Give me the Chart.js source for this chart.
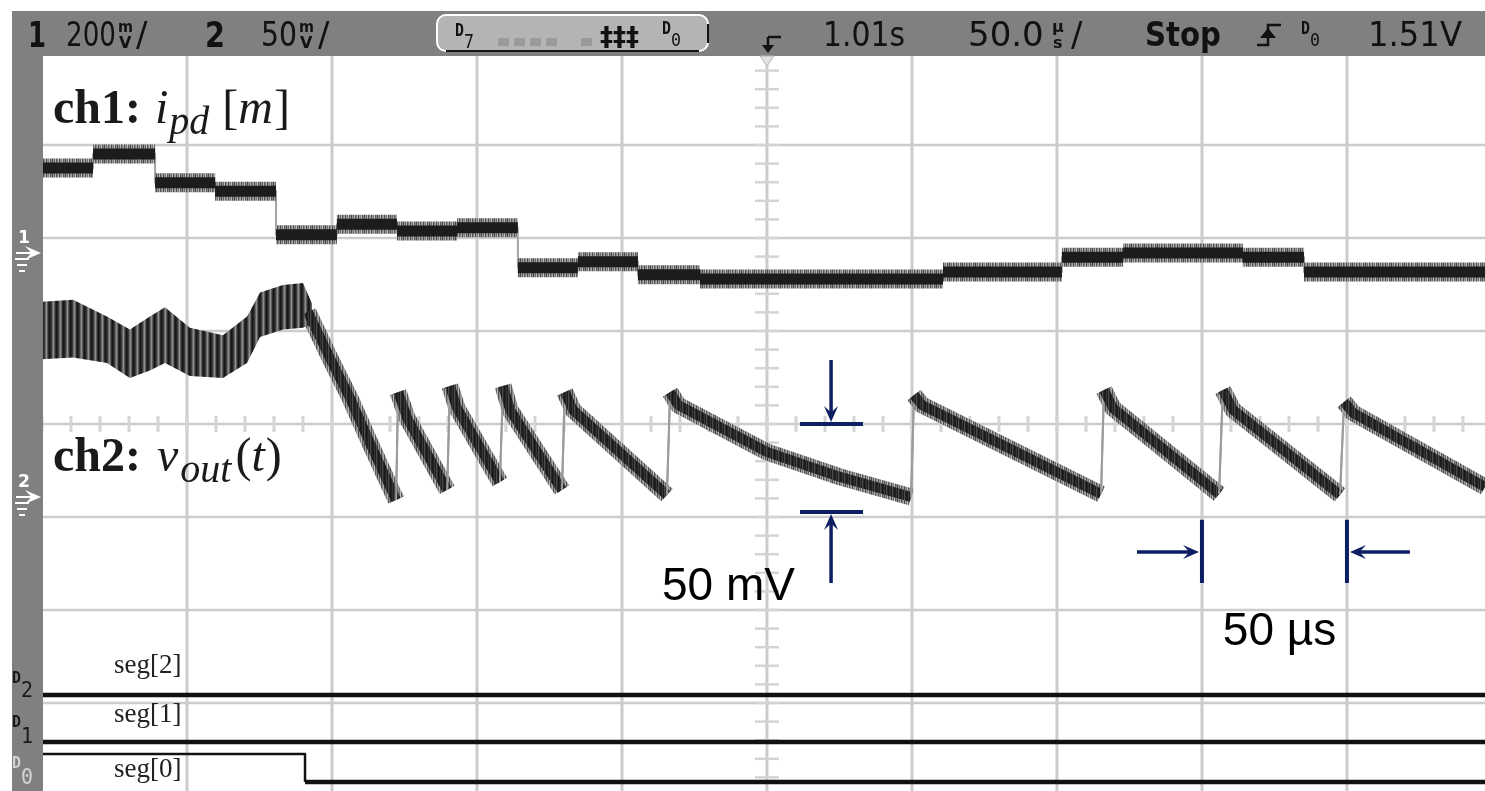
<!DOCTYPE html>
<html lang="en">
<head>
<meta charset="utf-8">
<title>Scope capture: ch1 i_pd[m], ch2 v_out(t)</title>
<script src="https://cdn.jsdelivr.net/npm/chart.js@4.4.1/dist/chart.umd.min.js"></script>
<style>
  html, body { margin: 0; padding: 0; background: #ffffff; overflow: hidden; }
  canvas { display: block; }
</style>
</head>
<body>
<canvas id="scope" width="1485" height="791"></canvas>
<script>
// time base: 50 us/div, trigger at 0 (centre of screen)
var timeDiv = 50;
var timeMin = -250, timeMax = 247.6;

// ch1: i_pd[m] at 200 mV/div -- step edges (us) and plateau levels (mV)
var ch1Edges = [-250, -232.4, -211.0, -190.3, -169.3, -148.3, -127.6, -106.9, -85.9, -65.2,
                -44.5, -23.1, 60.7, 101.7, 122.8, 164.1, 185.2, 247.6];
var ch1Levels = [183, 213, 151, 133, 39, 62, 47, 54, -32, -19, -47, -56, -41, -9, 0, -9, -41];

// ch2: v_out(t) at 50 mV/div -- noisy start, read as an upper / lower envelope (mV)
var ch2NoiseTimes = [-250, -239.3, -227.6, -219.7, -212.8, -207.6, -199.0, -187.6, -179.3, -174.8, -166.9, -160.0, -156.9];
var ch2NoiseHigh = [105, 106, 97, 90, 97, 102, 91, 87, 97, 110, 114, 115, 104];
var ch2NoiseLow = [74, 75, 72, 64, 68, 72, 65, 64, 72, 86, 90, 91, 93];

// ch2: the sawtooth part (trace centre, mV)
var ch2Times = [-158.3, -150.7, -143.8, -136.9, -131.7, -127.9, -127.2, -124.1, -110.3, -109.3,
                -106.9, -92.1, -91.0, -88.6, -70.7, -69.7, -66.9, -34.5, -33.4, -30.7,
                0, 25.2, 49.7, 50.7, 53.4, 115.2, 116.2, 119.3, 155.9, 157.2,
                160.7, 197.6, 199.0, 202.1, 247.6];
var ch2Values = [99.5, 74.7, 53.2, 29.0, 11.3, -1.6, 56.4, 42.5, 3.8, 59.7,
                 47.8, 8.1, 59.7, 46.8, 3.8, 56.4, 46.8, 1.1, 56.4, 49.5,
                 24.2, 10.8, 0, 54.8, 49.5, 1.6, 57.5, 47.8, 1.6, 57.5,
                 46.8, 1.1, 51.1, 45.2, 5.4];

// digital channels (logic levels at each change)
var digitalTimes = [-250, -159.3, 247.6];
var seg2Levels = [0, 0, 0];
var seg1Levels = [0, 0, 0];
var seg0Levels = [1, 0, 0];

// screen geometry (in divisions, 0 = centre line)
var divMax = 4, divMin = 4 - 739 / 93;
var ch1Offset = 1.839, ch1PerDiv = 200;
var ch2Offset = -0.785, ch2PerDiv = 50;
var digBase = { seg2: -2.914, seg1: -3.419, seg0: -3.849 };
var digHigh = 0.301;

var navy = '#0c1f62';
var canvas = document.getElementById('scope');
var mainCtx = canvas.getContext('2d');

function stripes(colors) {
    var c = document.createElement('canvas');
    c.width = colors.length;
    c.height = 1;
    var g = c.getContext('2d');
    colors.forEach(function (col, i) {
        g.fillStyle = col;
        g.fillRect(i, 0, 1, 1);
    });
    return mainCtx.createPattern(c, 'repeat');
}

// trace textures (the scope's persistence noise)
var bandPattern = stripes(['#161616', '#242424', '#3c3c3c', '#666666', '#8e8e8e', '#5c5c5c', '#2e2e2e']);
var fringePattern = stripes(['#4a4a4a', '#9a9a9a', '#666666', '#b4b4b4', '#555555', '#8a8a8a', '#a8a8a8',
                             '#4e4e4e', '#999999', '#777777', '#bdbdbd', '#5a5a5a', '#8a8a8a']);
var corePattern = stripes(['#1a1a1a', '#222222', '#363636', '#1e1e1e', '#4a4a4a', '#2a2a2a']);

function pts(xs, ys) {
    return xs.map(function (x, i) { return { x: x, y: ys[i] }; });
}

// ch1 plateaus as separate pieces, the edges as a thin stepped trace underneath
function ch1Plateaus() {
    var out = [];
    ch1Levels.forEach(function (v, i) {
        out.push({ x: ch1Edges[i], y: v }, { x: ch1Edges[i + 1], y: v }, { x: ch1Edges[i + 1], y: null });
    });
    return out;
}
var ch1Steps = pts(ch1Edges, ch1Levels.concat([ch1Levels[ch1Levels.length - 1]]));

function digital(levels, base) {
    return digitalTimes.map(function (t, i) { return { x: t, y: base + levels[i] * digHigh }; });
}

// rising edges of the sawtooth are thin grey, like the scope draws them
function isJump(c) { return c.p1.parsed.y - c.p0.parsed.y > 20; }
var jumpStyle = {
    borderWidth: function (c) { return isJump(c) ? 2 : undefined; },
    borderColor: function (c) { return isJump(c) ? '#9c9c9c' : undefined; }
};

function digitalSet(levels, base) {
    return {
        data: digital(levels, base), yAxisID: 'y', stepped: 'before',
        borderColor: '#111111', borderWidth: 4.5, order: 1,
        segment: {
            borderWidth: function (c) { return levels[c.p0DataIndex] ? 2.5 : undefined; }
        }
    };
}

function line(ctx, x1, y1, x2, y2) {
    ctx.beginPath();
    ctx.moveTo(x1, y1);
    ctx.lineTo(x2, y2);
    ctx.stroke();
}

function text(ctx, s, x, y, font, color, maxW) {
    ctx.font = font;
    ctx.fillStyle = color;
    if (maxW) ctx.fillText(s, x, y, maxW); else ctx.fillText(s, x, y);
    return x + Math.min(ctx.measureText(s).width, maxW || Infinity);
}

function arrow(ctx, x1, y1, x2, y2) {
    var a = Math.atan2(y2 - y1, x2 - x1), len = 16, hw = 7;
    line(ctx, x1, y1, x2 - Math.cos(a) * 6, y2 - Math.sin(a) * 6);
    ctx.beginPath();
    ctx.moveTo(x2, y2);
    ctx.lineTo(x2 - len * Math.cos(a) + hw * Math.sin(a), y2 - len * Math.sin(a) - hw * Math.cos(a));
    ctx.lineTo(x2 - 0.6 * len * Math.cos(a), y2 - 0.6 * len * Math.sin(a));
    ctx.lineTo(x2 - len * Math.cos(a) - hw * Math.sin(a), y2 - len * Math.sin(a) + hw * Math.cos(a));
    ctx.closePath();
    ctx.fill();
}

function drawGrid(chart) {
    var ctx = chart.ctx, a = chart.chartArea, xs = chart.scales.x, ys = chart.scales.y;
    var i, x, y;
    ctx.save();
    ctx.strokeStyle = '#cccccc';
    ctx.lineWidth = 3;
    for (i = 1; timeMin + i * timeDiv < timeMax; i++) {
        x = xs.getPixelForValue(timeMin + i * timeDiv);
        line(ctx, x, a.top, x, a.bottom);
    }
    ctx.lineWidth = 2.5;
    for (i = Math.ceil(divMin); i < divMax; i++) {
        y = ys.getPixelForValue(i);
        line(ctx, a.left, y, a.right, y);
    }
    // minor ticks on the centre cross
    var x0 = xs.getPixelForValue(0), y0 = ys.getPixelForValue(0);
    ctx.strokeStyle = '#d4d4d4';
    ctx.lineWidth = 3;
    for (i = 0; timeMin + i * timeDiv / 5 <= timeMax; i++) {
        x = xs.getPixelForValue(timeMin + i * timeDiv / 5);
        line(ctx, x, y0 - 8, x, y0 + 8);
    }
    ctx.lineWidth = 2.5;
    for (i = 0; divMax - i * 0.2 >= divMin; i++) {
        y = ys.getPixelForValue(divMax - i * 0.2);
        line(ctx, x0 - 12, y, x0 + 12, y);
    }
    ctx.restore();
}

function stackedUnit(ctx, top, bottom, x) {
    text(ctx, top, x, 32, 'bold 16px "DejaVu Sans"', '#111111', 15);
    text(ctx, bottom, x + 1, 48, 'bold 16px "DejaVu Sans"', '#111111', 13);
}

function drawFrame(chart) {
    var ctx = chart.ctx, W = chart.width, H = chart.height;
    var x0 = chart.scales.x.getPixelForValue(0);
    ctx.save();
    ctx.fillStyle = '#808080';
    ctx.fillRect(12, 11, W - 12, 45);
    ctx.fillRect(12, 11, 31, H - 11);

    // trigger position marker
    ctx.fillStyle = '#e2e2e2';
    ctx.strokeStyle = '#b8b8b8';
    ctx.lineWidth = 1;
    ctx.beginPath();
    ctx.moveTo(x0 - 7, 56); ctx.lineTo(x0 + 7, 56); ctx.lineTo(x0, 66); ctx.closePath();
    ctx.fill(); ctx.stroke();

    // status line
    ctx.textBaseline = 'alphabetic';
    var f = '34px "DejaVu Sans"', fb = 'bold 36px "DejaVu Sans"', k = '#111111';
    text(ctx, '1', 28, 47, fb, k, 18);
    text(ctx, '200', 66, 46, f, k, 50);
    stackedUnit(ctx, 'm', 'V', 118);
    text(ctx, '/', 136, 46, f, k, 12);
    text(ctx, '2', 205, 47, fb, k, 20);
    text(ctx, '50', 261, 46, f, k, 36);
    stackedUnit(ctx, 'm', 'V', 299);
    text(ctx, '/', 318, 46, f, k, 12);

    // digital channel box
    ctx.fillStyle = '#b4b4b4';
    ctx.beginPath();
    ctx.roundRect(437, 15, 271, 36, 9);
    ctx.fill();
    ctx.strokeStyle = '#ffffff';
    ctx.lineWidth = 2;
    ctx.stroke();
    ctx.strokeStyle = '#151515';
    line(ctx, 446, 51, 699, 51);
    line(ctx, 708, 24, 708, 43);
    text(ctx, 'D', 455, 36, 'bold 17px "DejaVu Sans Mono"', k, 9);
    text(ctx, '7', 464, 48, '20px "DejaVu Sans Mono"', k, 10);
    ctx.fillStyle = '#9a9a9a';
    [498, 514, 530, 546, 581].forEach(function (sx) { ctx.fillRect(sx, 38, 11, 8); });
    text(ctx, '\u2021\u2021\u2021', 600, 46, 'bold 26px "DejaVu Sans"', k, 50);
    text(ctx, 'D', 662, 34, 'bold 17px "DejaVu Sans Mono"', k, 9);
    text(ctx, '0', 671, 46, '18px "DejaVu Sans Mono"', k, 10);

    // trigger time / timebase
    ctx.strokeStyle = k;
    ctx.fillStyle = k;
    ctx.lineWidth = 2.5;
    line(ctx, 768, 37, 781, 37);
    line(ctx, 768, 37, 768, 47);
    ctx.beginPath();
    ctx.moveTo(762, 45); ctx.lineTo(774, 45); ctx.lineTo(768, 53); ctx.closePath();
    ctx.fill();
    text(ctx, '1.01s', 823, 46, f, k, 82);
    text(ctx, '50.0', 968, 46, f, k, 82);
    stackedUnit(ctx, '\u00b5', 's', 1052);
    text(ctx, '/', 1071, 46, f, k, 14);
    text(ctx, 'Stop', 1145, 46, 'bold 34px "DejaVu Sans"', k, 76);

    // trigger edge symbol
    ctx.lineWidth = 2.5;
    ctx.beginPath();
    ctx.moveTo(1257, 45); ctx.lineTo(1268, 45); ctx.lineTo(1268, 25); ctx.lineTo(1281, 25);
    ctx.stroke();
    ctx.beginPath();
    ctx.moveTo(1260, 38); ctx.lineTo(1276, 38); ctx.lineTo(1268, 28); ctx.closePath();
    ctx.fill();
    text(ctx, 'D', 1301, 34, 'bold 17px "DejaVu Sans Mono"', k, 9);
    text(ctx, '0', 1310, 46, '18px "DejaVu Sans Mono"', k, 10);
    text(ctx, '1.51V', 1368, 46, f, k, 94);

    // channel ground markers
    [[ch1Offset, '1'], [ch2Offset, '2']].forEach(function (m) {
        var y = chart.scales.y.getPixelForValue(m[0]);
        ctx.strokeStyle = '#ffffff';
        ctx.fillStyle = '#ffffff';
        text(ctx, m[1], 18, y - 10, 'bold 18px "DejaVu Sans"', '#ffffff', 12);
        ctx.lineWidth = 2;
        arrow(ctx, 16, y, 41, y);
        line(ctx, 15, y + 6, 29, y + 6);
        line(ctx, 17, y + 12, 27, y + 12);
        line(ctx, 19, y + 18, 25, y + 18);
    });

    // digital channel labels
    text(ctx, 'D', 12, 683, 'bold 16px "DejaVu Sans Mono"', '#1a1a1a', 9);
    text(ctx, '2', 21, 697, '21px "DejaVu Sans Mono"', '#1a1a1a', 12);
    text(ctx, 'D', 12, 727, 'bold 16px "DejaVu Sans Mono"', '#1a1a1a', 9);
    text(ctx, '1', 21, 743, '21px "DejaVu Sans Mono"', '#1a1a1a', 12);
    text(ctx, 'D', 12, 768, 'bold 16px "DejaVu Sans Mono"', '#d4d4d4', 9);
    text(ctx, '0', 21, 784, '21px "DejaVu Sans Mono"', '#d4d4d4', 12);
    ctx.restore();
}

function drawLabels(chart) {
    var ctx = chart.ctx, xs = chart.scales.x, ys = chart.scales.y;
    var serif = '"Liberation Serif", "Times New Roman", serif', ink = '#1a1a1a';
    ctx.save();
    ctx.textBaseline = 'alphabetic';
    var x = text(ctx, 'ch1:', 53, 123, 'bold 48px ' + serif, ink);
    x = text(ctx, 'i', x + 14, 123, 'italic 48px ' + serif, ink);
    x = text(ctx, 'pd', x + 1, 134, 'italic 40px ' + serif, ink);
    x = text(ctx, '[', x + 13, 123, '48px ' + serif, ink);
    x = text(ctx, 'm', x, 123, 'italic 48px ' + serif, ink);
    text(ctx, ']', x + 1, 123, '48px ' + serif, ink);

    x = text(ctx, 'ch2:', 53, 471, 'bold 48px ' + serif, ink);
    x = text(ctx, 'v', x + 16, 471, 'italic 48px ' + serif, ink);
    x = text(ctx, 'out', x + 2, 482, 'italic 40px ' + serif, ink);
    x = text(ctx, '(', x + 4, 471, '48px ' + serif, ink);
    x = text(ctx, 't', x, 471, 'italic 48px ' + serif, ink);
    text(ctx, ')', x + 1, 471, '48px ' + serif, ink);

    text(ctx, 'seg[2]', 114, 673, '27px ' + serif, '#222222');
    text(ctx, 'seg[1]', 114, 722, '27px ' + serif, '#222222');
    text(ctx, 'seg[0]', 114, 777, '27px ' + serif, '#222222');

    // 50 mV bracket
    var px = function (t) { return xs.getPixelForValue(t); };
    var py = function (d) { return ys.getPixelForValue(d); };
    ctx.strokeStyle = navy;
    ctx.fillStyle = navy;
    ctx.lineWidth = 4;
    line(ctx, px(11.4), py(0), px(33.1), py(0));
    line(ctx, px(11.4), py(-0.946), px(33.1), py(-0.946));
    ctx.lineWidth = 3.5;
    arrow(ctx, px(22.1), py(0.688), px(22.1), py(0) - 2);
    arrow(ctx, px(22.1), py(-1.71), px(22.1), py(-0.946) + 2);
    text(ctx, '50 mV', px(-36.2), py(-1.89), '46px "Liberation Sans", Arial, sans-serif', '#000000');

    // 50 us bracket
    ctx.strokeStyle = navy;
    ctx.fillStyle = navy;
    ctx.lineWidth = 4;
    line(ctx, px(150), py(-1.03), px(150), py(-1.71));
    line(ctx, px(200), py(-1.03), px(200), py(-1.71));
    ctx.lineWidth = 3.5;
    arrow(ctx, px(127.6), py(-1.376), px(150) - 3, py(-1.376));
    arrow(ctx, px(221.7), py(-1.376), px(200) + 3, py(-1.376));
    text(ctx, '50 \u00b5s', px(157.2), py(-2.376), '46px "Liberation Sans", Arial, sans-serif', '#000000');
    ctx.restore();
}

var scopeDecor = {
    id: 'scopeDecor',
    beforeDraw: function (chart) {
        chart.ctx.save();
        chart.ctx.fillStyle = '#ffffff';
        chart.ctx.fillRect(0, 0, chart.width, chart.height);
        chart.ctx.restore();
    },
    beforeDatasetsDraw: function (chart) { drawGrid(chart); },
    afterDatasetsDraw: function (chart) {
        drawFrame(chart);
        drawLabels(chart);
    }
};

var scopeChart = new Chart(canvas, {
    type: 'line',
    data: {
        datasets: [
            { // noisy part of ch2, filled between its envelopes
                data: pts(ch2NoiseTimes, ch2NoiseHigh), yAxisID: 'y2', borderWidth: 0,
                fill: '+1', backgroundColor: bandPattern, order: 5
            },
            { data: pts(ch2NoiseTimes, ch2NoiseLow), yAxisID: 'y2', borderWidth: 0, fill: false, order: 5 },
            { data: ch1Steps, yAxisID: 'y1', stepped: 'before', borderColor: '#a4a4a4', borderWidth: 2, order: 7 },
            { data: ch1Plateaus(), yAxisID: 'y1', borderColor: fringePattern, borderWidth: 19, order: 6 },
            { data: ch1Plateaus(), yAxisID: 'y1', borderColor: '#1c1c1c', borderWidth: 11, order: 4 },
            { data: pts(ch2Times, ch2Values), yAxisID: 'y2', borderColor: fringePattern, borderWidth: 17, segment: jumpStyle, order: 6 },
            { data: pts(ch2Times, ch2Values), yAxisID: 'y2', borderColor: corePattern, borderWidth: 10, segment: jumpStyle, order: 4 },
            digitalSet(seg2Levels, digBase.seg2),
            digitalSet(seg1Levels, digBase.seg1),
            digitalSet(seg0Levels, digBase.seg0)
        ]
    },
    options: {
        responsive: false,
        devicePixelRatio: 1,
        animation: false,
        events: [],
        layout: { padding: { left: 42, top: 52, right: 0, bottom: 0 } },
        elements: {
            point: { radius: 0, hoverRadius: 0 },
            line: { tension: 0, borderCapStyle: 'butt', borderJoinStyle: 'round' }
        },
        plugins: { legend: { display: false }, tooltip: { enabled: false } },
        scales: {
            x: { type: 'linear', min: timeMin, max: timeMax, display: false },
            y: { type: 'linear', min: divMin, max: divMax, display: false },
            y1: {
                type: 'linear', display: false,
                min: (divMin - ch1Offset) * ch1PerDiv, max: (divMax - ch1Offset) * ch1PerDiv
            },
            y2: {
                type: 'linear', display: false,
                min: (divMin - ch2Offset) * ch2PerDiv, max: (divMax - ch2Offset) * ch2PerDiv
            }
        }
    },
    plugins: [scopeDecor]
});
</script>
</body>
</html>
